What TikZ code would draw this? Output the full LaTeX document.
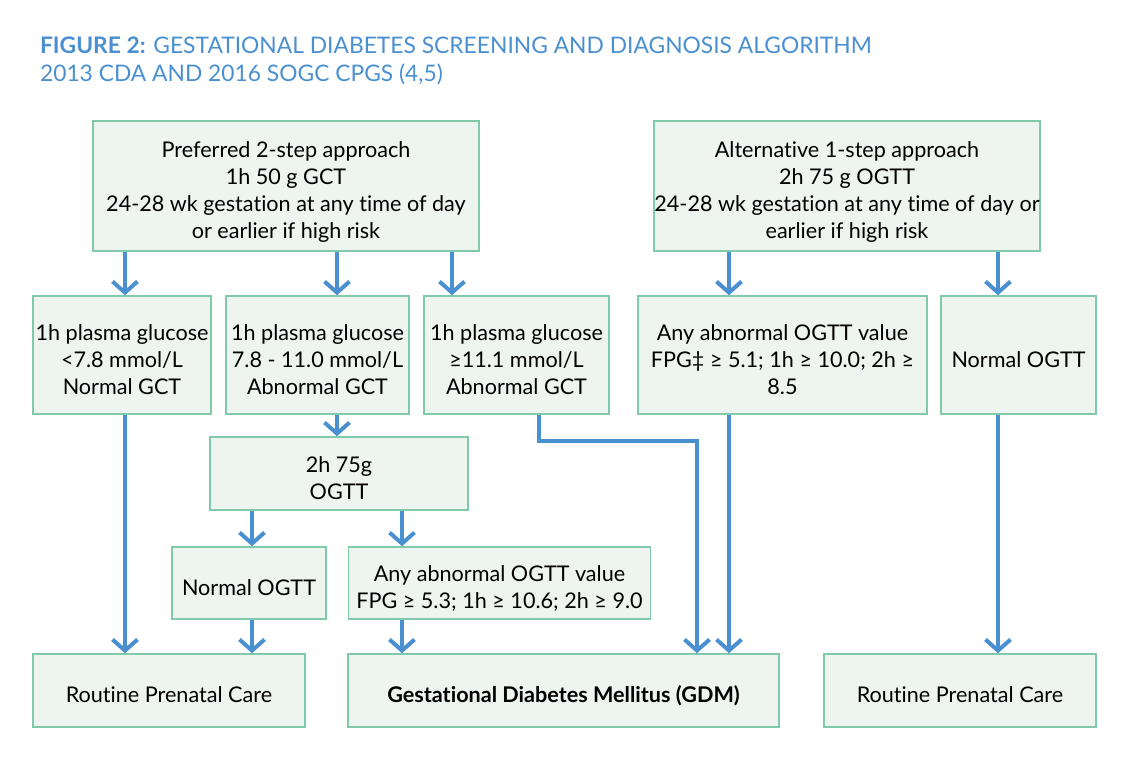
\documentclass[tikz,border=0pt]{standalone}
\usepackage{fontspec}
\setmainfont{Lato}[Ligatures=NoCommon]
\usetikzlibrary{arrows.meta}

\definecolor{figblue}{HTML}{4A90D0}
\definecolor{boxline}{HTML}{80C9A9}
\definecolor{boxfill}{HTML}{EEF5F1}

% box text, lowered a little inside its box
\newcommand{\boxlines}[1]{\raisebox{-3.4pt}[\height][\depth]{\begin{tabular}{@{}c@{}}#1\end{tabular}}}

\tikzset{
  box/.style={draw=boxline, fill=boxfill, line width=0.8pt,
    inner sep=0pt, font=\fontsize{10.8}{13.5}\selectfont},
  flow/.style={draw=figblue, line width=2pt,
    -{Straight Barb[length=5.5pt,width=12.5pt]}},
}

\begin{document}
\begin{tikzpicture}[x=0.5pt, y=-0.5pt]
        \useasboundingbox (0,0) rectangle (1132,761);

        % title
        \node[anchor=base west, align=left, text=figblue,
              font=\fontsize{11.4}{14}\selectfont] (title) at (33,81)
              {\textbf{FIGURE 2:} GESTATIONAL DIABETES SCREENING AND DIAGNOSIS ALGORITHM\\
               2013 CDA AND 2016 SOGC CPGS (4,5)};

        % approaches
        \node[box, minimum width=193pt, minimum height=65pt] (twostep) at (286,186)
              {\boxlines{Preferred 2-step approach\\1h 50 g GCT\\24-28 wk gestation at any time of day\\or earlier if high risk}};
        \node[box, minimum width=193pt, minimum height=65pt] (onestep) at (847,186)
              {\boxlines{Alternative 1-step approach\\2h 75 g OGTT\\24-28 wk gestation at any time of day or\\earlier if high risk}};

        % results of the screening
        \node[box, minimum width=89pt, minimum height=59pt] (glcLow) at (122,355)
              {\boxlines{1h plasma glucose\\<7.8 mmol/L\\Normal GCT}};
        \node[box, minimum width=91.5pt, minimum height=59pt] (glcMid) at (317.5,355)
              {\boxlines{1h plasma glucose\\7.8 - 11.0 mmol/L\\Abnormal GCT}};
        \node[box, minimum width=92.5pt, minimum height=59pt] (glcHigh) at (516.5,355)
              {\boxlines{1h plasma glucose\\≥11.1 mmol/L\\Abnormal GCT}};
        \node[box, minimum width=144.5pt, minimum height=59pt] (oneAbn) at (782.5,355)
              {\boxlines{Any abnormal OGTT value\\FPG‡ ≥ 5.1; 1h ≥ 10.0; 2h ≥\\8.5}};
        \node[box, minimum width=77.5pt, minimum height=59pt] (oneNorm) at (1018.5,355)
              {\boxlines{Normal OGTT}};

        % second test
        \node[box, minimum width=129pt, minimum height=36.5pt] (ogtt) at (339,473.5)
              {\boxlines{2h 75g\\OGTT}};
        \node[box, minimum width=77pt, minimum height=36pt] (twoNorm) at (249,583)
              {\boxlines{Normal OGTT}};
        \node[box, minimum width=151pt, minimum height=36pt] (twoAbn) at (499.5,583)
              {\boxlines{Any abnormal OGTT value\\FPG ≥ 5.3; 1h ≥ 10.6; 2h ≥ 9.0}};

        % outcomes
        \node[box, minimum width=136pt, minimum height=36.5pt] (careL) at (169,690.5)
              {\boxlines{Routine Prenatal Care}};
        \node[box, minimum width=215.5pt, minimum height=36.5pt] (gdm) at (563.5,690.5)
              {\boxlines{\textbf{Gestational Diabetes Mellitus (GDM)}}};
        \node[box, minimum width=136pt, minimum height=36.5pt] (careR) at (960,690.5)
              {\boxlines{Routine Prenatal Care}};

        % connectors
        \draw[flow] (twostep.south -| 125,0) -- (glcLow.north -| 125,0);
        \draw[flow] (twostep.south -| 337,0) -- (glcMid.north -| 337,0);
        \draw[flow] (twostep.south -| 452,0) -- (glcHigh.north -| 452,0);
        \draw[flow] (onestep.south -| 729,0) -- (oneAbn.north -| 729,0);
        \draw[flow] (onestep.south -| 998,0) -- (oneNorm.north -| 998,0);

        \draw[flow] (glcLow.south -| 125,0) -- (careL.north -| 125,0);
        \draw[flow] (glcMid.south -| 337,0) -- (ogtt.north -| 337,0);
        \draw[flow] (glcHigh.south -| 539,0) -- ++(0,26) -| (gdm.north -| 697,0);
        \draw[flow] (oneAbn.south -| 729,0) -- (gdm.north -| 729,0);
        \draw[flow] (oneNorm.south -| 998,0) -- (careR.north -| 998,0);

        \draw[flow] (ogtt.south -| 252,0) -- (twoNorm.north -| 252,0);
        \draw[flow] (ogtt.south -| 402,0) -- (twoAbn.north -| 402,0);
        \draw[flow] (twoNorm.south -| 252,0) -- (careL.north -| 252,0);
        \draw[flow] (twoAbn.south -| 402,0) -- (gdm.north -| 402,0);
\end{tikzpicture}
\end{document}
